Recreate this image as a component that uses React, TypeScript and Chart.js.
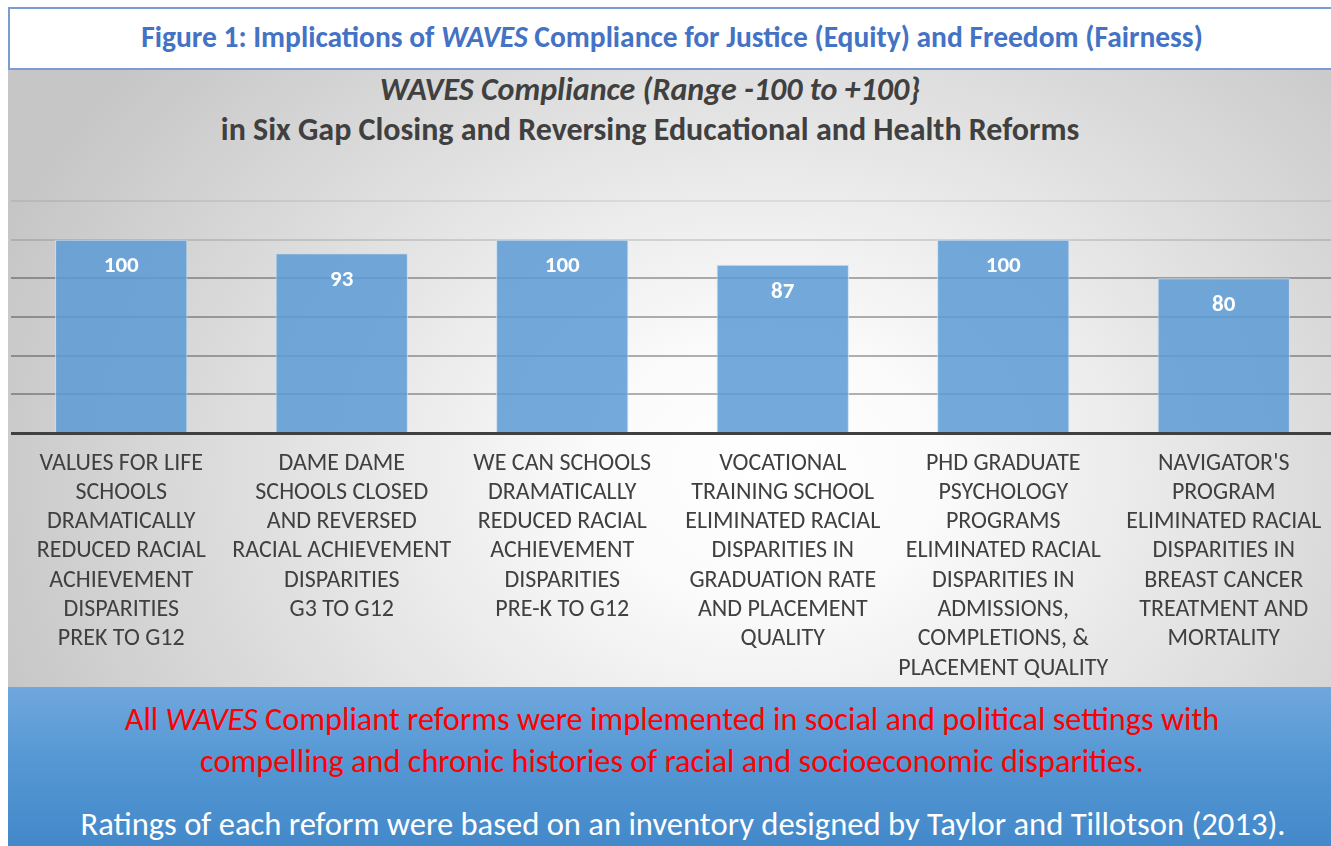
import React, { useEffect, useRef } from "react";
import { Chart, registerables } from "chart.js";

Chart.register(...registerables);

const FONT = "Carlito, Lato, 'Open Sans', sans-serif";

const headerParts = ["Figure 1: Implications of ", "WAVES", " Compliance for Justice (Equity) and Freedom (Fairness)"];
const chartTitle = "WAVES Compliance (Range -100 to +100}";
const chartSubtitle = "in Six Gap Closing and Reversing Educational and Health Reforms";

const categories: string[][] = [
  ["VALUES FOR LIFE", "SCHOOLS", "DRAMATICALLY", "REDUCED RACIAL", "ACHIEVEMENT", "DISPARITIES", "PREK TO G12"],
  ["DAME DAME", "SCHOOLS CLOSED", "AND REVERSED", "RACIAL ACHIEVEMENT", "DISPARITIES", "G3 TO G12"],
  ["WE CAN SCHOOLS", "DRAMATICALLY", "REDUCED RACIAL", "ACHIEVEMENT", "DISPARITIES", "PRE-K TO G12"],
  ["VOCATIONAL", "TRAINING SCHOOL", "ELIMINATED RACIAL", "DISPARITIES IN", "GRADUATION RATE", "AND PLACEMENT", "QUALITY"],
  ["PHD GRADUATE", "PSYCHOLOGY", "PROGRAMS", "ELIMINATED RACIAL", "DISPARITIES IN", "ADMISSIONS,", "COMPLETIONS, &", "PLACEMENT QUALITY"],
  ["NAVIGATOR'S", "PROGRAM", "ELIMINATED RACIAL", "DISPARITIES IN", "BREAST CANCER", "TREATMENT AND", "MORTALITY"],
];

const values: number[] = [100, 93, 100, 87, 100, 80];

const yMin = 0;
const yMax = 120;
const yStep = 20;

const noteRedParts = ["All ", "WAVES", " Compliant reforms were implemented in social and political settings with"];
const noteRedLine2 = "compelling and chronic histories of racial and socioeconomic disparities.";
const noteWhite = "Ratings of each reform were based on an inventory designed by Taylor and Tillotson (2013).";

const valueLabelPlugin = {
  id: "valueLabels",
  afterDatasetsDraw(chart: any) {
    const ctx = chart.ctx;
    const meta = chart.getDatasetMeta(0);
    ctx.save();
    ctx.font = `bold 23px ${FONT}`;
    ctx.fillStyle = "#ffffff";
    ctx.textAlign = "center";
    ctx.textBaseline = "middle";
    meta.data.forEach((bar: any, i: number) => {
      ctx.fillText(String(chart.data.datasets[0].data[i]), bar.x, bar.y + 27);
    });
    ctx.restore();
  },
};

export default function App() {
  const canvasRef = useRef<HTMLCanvasElement | null>(null);

  useEffect(() => {
    if (!canvasRef.current) return;
    const chart = new Chart(canvasRef.current, {
      type: "bar",
      data: {
        labels: categories,
        datasets: [
          {
            data: values,
            backgroundColor: "rgba(91,155,213,0.85)",
            borderColor: "rgba(200,222,242,0.9)",
            borderWidth: 1,
            categoryPercentage: 1,
            barPercentage: 0.6,
          },
        ],
      },
      options: {
        animation: false,
        responsive: false,
        devicePixelRatio: 1,
        layout: { padding: { top: 11, left: 0, right: 8, bottom: 6 } },
        plugins: {
          legend: { display: false },
          tooltip: { enabled: false },
          title: { display: false },
        },
        scales: {
          x: {
            grid: { display: false, drawTicks: false },
            border: { display: true, color: "#404040", width: 3 },
            afterFit: (scale: any) => {
              scale.height = 251;
            },
            ticks: {
              color: "#404040",
              font: { family: FONT, size: 24, lineHeight: 1.22 },
              padding: 16,
              maxRotation: 0,
              minRotation: 0,
              autoSkip: false,
            },
          },
          y: {
            min: yMin,
            max: yMax,
            ticks: { display: false, stepSize: yStep },
            border: { display: false },
            grid: {
              drawTicks: false,
              lineWidth: 2,
              color: (ctx: any) => {
                const v = ctx.tick ? ctx.tick.value : 0;
                if (v >= 120) return "rgba(0,0,0,0.07)";
                if (v >= 100) return "rgba(0,0,0,0.12)";
                return "rgba(0,0,0,0.3)";
              },
            },
          },
        },
      },
      plugins: [valueLabelPlugin],
    });
    return () => chart.destroy();
  }, []);

  return (
    <div
      style={{
        position: "fixed",
        left: 0,
        top: 0,
        width: 1331,
        height: 846,
        overflow: "hidden",
        background: "#ffffff",
        fontFamily: FONT,
      }}
    >
      <div
        style={{
          position: "absolute",
          left: 8,
          top: 7,
          width: 1328,
          height: 63,
          boxSizing: "border-box",
          border: "2px solid #7b9bd6",
          background: "#ffffff",
          color: "#4472c4",
          fontWeight: 700,
          fontSize: 29.5,
          lineHeight: "57px",
          textAlign: "center",
          whiteSpace: "nowrap",
        }}
      >
        {headerParts[0]}
        <i>{headerParts[1]}</i>
        {headerParts[2]}
      </div>
      <div
        style={{
          position: "absolute",
          left: 8,
          top: 70,
          width: 1328,
          height: 617,
          background:
            "radial-gradient(ellipse 820px 640px at 760px 400px, #ffffff 0%, #fbfbfb 20%, #e4e4e4 55%, #c6c6c6 100%)",
        }}
      />
      <div
        style={{
          position: "absolute",
          left: 8,
          width: 1284,
          top: 71,
          textAlign: "center",
          color: "#404040",
          fontWeight: 700,
          fontStyle: "italic",
          fontSize: 32,
          lineHeight: "38px",
          whiteSpace: "nowrap",
        }}
      >
        {chartTitle}
      </div>
      <div
        style={{
          position: "absolute",
          left: 8,
          width: 1284,
          top: 111,
          textAlign: "center",
          color: "#404040",
          fontWeight: 700,
          fontSize: 32,
          lineHeight: "38px",
          whiteSpace: "nowrap",
        }}
      >
        {chartSubtitle}
      </div>
      <div style={{ position: "absolute", left: 11, top: 190, width: 1331, height: 500 }}>
        <canvas ref={canvasRef} width={1331} height={500} style={{ display: "block" }} />
      </div>
      <div
        style={{
          position: "absolute",
          left: 8,
          top: 687,
          width: 1328,
          height: 159,
          background: "linear-gradient(to bottom, #70a7dd 0%, #5598d4 45%, #4388c9 100%)",
        }}
      >
        <div
          style={{
            position: "absolute",
            left: 0,
            width: 1328,
            top: 11,
            textAlign: "center",
            color: "#ff0000",
            fontSize: 32.3,
            lineHeight: "42px",
            whiteSpace: "nowrap",
          }}
        >
          {noteRedParts[0]}
          <i>{noteRedParts[1]}</i>
          {noteRedParts[2]}
          <br />
          {noteRedLine2}
        </div>
        <div
          style={{
            position: "absolute",
            left: 11,
            width: 1328,
            top: 117,
            textAlign: "center",
            color: "#ffffff",
            fontSize: 32.6,
            lineHeight: "40px",
            whiteSpace: "nowrap",
          }}
        >
          {noteWhite}
        </div>
      </div>
    </div>
  );
}
